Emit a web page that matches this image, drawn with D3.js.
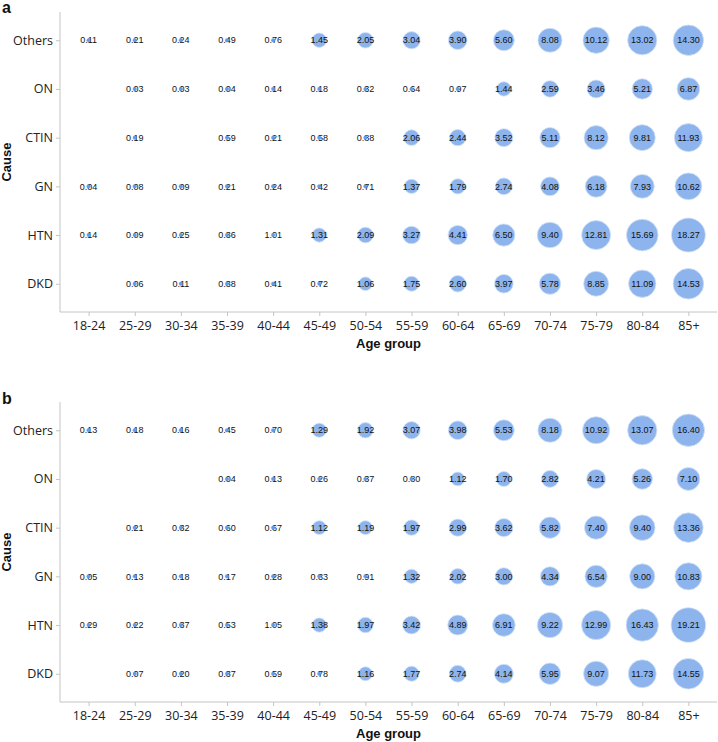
<!DOCTYPE html>
<html>
<head>
<meta charset="utf-8">
<script src="https://cdn.jsdelivr.net/npm/d3@7"></script>
<style>
  body { margin: 0; background: #fff; }
  svg { display: block; }
  .tick text { font-family: "Open Sans", Lato, sans-serif; fill: #222; }
  .bub-label { font-family: "Liberation Sans", Arial, sans-serif; font-size: 9px; fill: #111; }
  .title { font-family: "Liberation Sans", Arial, sans-serif; font-weight: bold; fill: #111; }
</style>
</head>
<body>
<div id="canvas"></div>
<script>
// categories
var ages = ["18-24","25-29","30-34","35-39","40-44","45-49","50-54","55-59","60-64","65-69","70-74","75-79","80-84","85+"];
var causes = ["Others","ON","CTIN","GN","HTN","DKD"];

// panel a values (null = no point)
var othersA = [0.11,0.21,0.24,0.49,0.76,1.45,2.05,3.04,3.90,5.60,8.08,10.12,13.02,14.30];
var onA     = [null,0.03,0.03,0.04,0.14,0.18,0.32,0.64,0.97,1.44,2.59,3.46,5.21,6.87];
var ctinA   = [null,0.19,null,0.59,0.21,0.58,0.88,2.06,2.44,3.52,5.11,8.12,9.81,11.93];
var gnA     = [0.04,0.08,0.09,0.21,0.24,0.42,0.71,1.37,1.79,2.74,4.08,6.18,7.93,10.62];
var htnA    = [0.14,0.09,0.25,0.36,1.01,1.31,2.09,3.27,4.41,6.50,9.40,12.81,15.69,18.27];
var dkdA    = [null,0.06,0.11,0.38,0.41,0.72,1.06,1.75,2.60,3.97,5.78,8.85,11.09,14.53];

// panel b values
var othersB = [0.13,0.18,0.16,0.45,0.70,1.29,1.92,3.07,3.98,5.53,8.18,10.92,13.07,16.40];
var onB     = [null,null,null,0.04,0.13,0.26,0.37,0.80,1.12,1.70,2.82,4.21,5.26,7.10];
var ctinB   = [null,0.21,0.32,0.60,0.67,1.12,1.19,1.97,2.99,3.62,5.82,7.40,9.40,13.36];
var gnB     = [0.05,0.13,0.18,0.17,0.28,0.33,0.91,1.32,2.02,3.00,4.34,6.54,9.00,10.83];
var htnB    = [0.29,0.22,0.37,0.53,1.05,1.38,1.97,3.42,4.89,6.91,9.22,12.99,16.43,19.21];
var dkdB    = [null,0.07,0.20,0.37,0.59,0.78,1.16,1.77,2.74,4.14,5.95,9.07,11.73,14.55];

var panelA = [othersA, onA, ctinA, gnA, htnA, dkdA];
var panelB = [othersB, onB, ctinB, gnB, htnB, dkdB];

var width = 718, height = 742;

var svg = d3.select("#canvas").append("svg")
            .attr("width", width)
            .attr("height", height);

// bubble size: area grows linearly with value, tiny dot below ~1
var areaScale = d3.scaleLinear().domain([0, 19.21]).range([32, 300]);
function radius(v){
	return v < 1.06 ? 2 : Math.sqrt(areaScale(v));
}

var x = d3.scalePoint().domain(ages).range([60, 717]).padding(0.62);

function drawPanel(rows, top, letter, letterY){
	var bottom = top + 300;
	var y = d3.scalePoint().domain(causes).range([top, bottom]).padding(0.58);

	var points = [];
	rows.forEach(function(vals, i){
		vals.forEach(function(v, j){
			if (v != null) points.push({cause: causes[i], age: ages[j], value: v});
		});
	});

	var g = svg.append("g");

	// axes
	var xAxis = g.append("g")
	             .attr("transform", "translate(0," + bottom + ")")
	             .call(d3.axisBottom(x).tickSize(4).tickPadding(5));
	var yAxis = g.append("g")
	             .attr("transform", "translate(60,0)")
	             .call(d3.axisLeft(y).tickSize(4).tickPadding(3));

	xAxis.select(".domain").attr("d", "M60,0H717");
	yAxis.select(".domain").attr("d", "M0," + top + "V" + bottom);
	[xAxis, yAxis].forEach(function(a){
		a.selectAll(".domain, .tick line").attr("stroke", "#c4c4c4");
		a.selectAll(".tick text").attr("font-size", 12.5);
	});

	// bubbles
	g.selectAll("circle.bub")
	 .data(points)
	 .enter().append("circle")
	 .attr("class", "bub")
	 .attr("cx", function(d){ return x(d.age); })
	 .attr("cy", function(d){ return y(d.cause); })
	 .attr("r", function(d){ return radius(d.value); })
	 .attr("fill", "#8db4ec")
	 .attr("stroke", "#d3e2f8")
	 .attr("stroke-width", 0.8);

	g.selectAll("text.bub-label")
	 .data(points)
	 .enter().append("text")
	 .attr("class", "bub-label")
	 .attr("x", function(d){ return x(d.age); })
	 .attr("y", function(d){ return y(d.cause); })
	 .attr("dy", "0.35em")
	 .attr("text-anchor", "middle")
	 .text(function(d){ return d.value.toFixed(2); });

	// small dots sit on top of their labels
	g.selectAll("circle.dot")
	 .data(points.filter(function(d){ return d.value < 1.06; }))
	 .enter().append("circle")
	 .attr("cx", function(d){ return x(d.age); })
	 .attr("cy", function(d){ return y(d.cause); })
	 .attr("r", 1.8)
	 .attr("fill", "#5f9cf0");

	// titles
	g.append("text").attr("class", "title")
	 .attr("x", 388.5).attr("y", bottom + 36)
	 .attr("text-anchor", "middle").attr("font-size", 13)
	 .text("Age group");

	g.append("text").attr("class", "title")
	 .attr("transform", "translate(11," + (top + bottom) / 2 + ") rotate(-90)")
	 .attr("text-anchor", "middle").attr("font-size", 13)
	 .text("Cause");

	g.append("text").attr("class", "title")
	 .attr("x", 2).attr("y", letterY)
	 .attr("font-size", 16)
	 .text(letter);
}

drawPanel(panelA, 12, "a", 13);
drawPanel(panelB, 402, "b", 404);
</script>
</body>
</html>
